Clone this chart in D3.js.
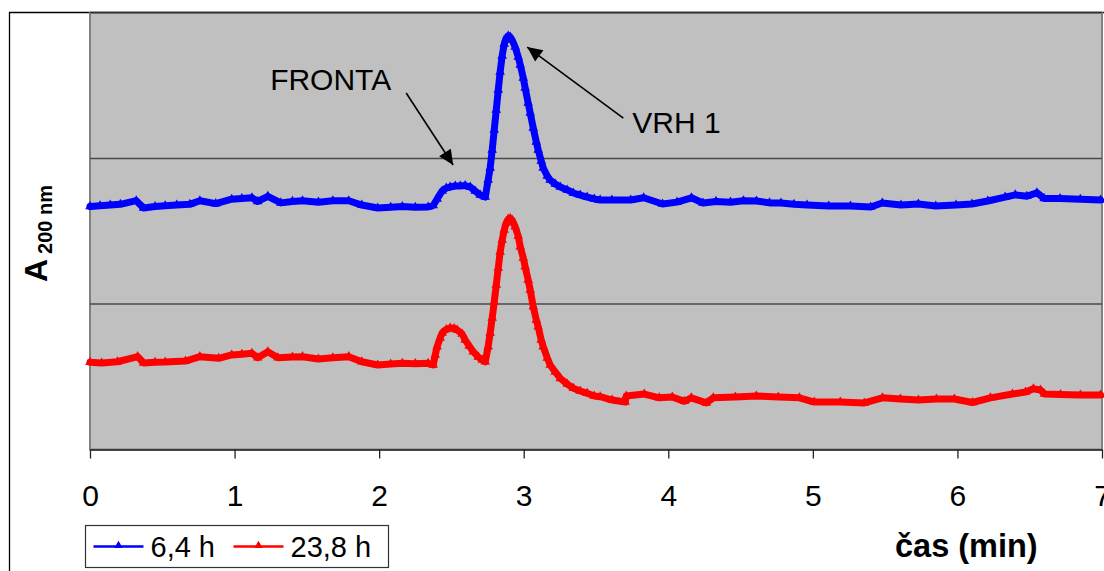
<!DOCTYPE html>
<html>
<head>
<meta charset="utf-8">
<script src="https://cdn.jsdelivr.net/npm/d3@7"></script>
<style>
    body { margin: 0; background: #fff; }
    text { font-family: "Liberation Sans", Arial, sans-serif; }
</style>
</head>
<body>
<div id="chart"></div>
<script>
// data (time in min, absorbance in arbitrary units)
var blueTime = [0.00, 0.07, 0.14, 0.21, 0.32, 0.37, 0.45, 0.52, 0.60, 0.69, 0.76, 0.87, 0.98, 1.05, 1.12, 1.16, 1.23, 1.32, 1.40, 1.47,
    1.58, 1.68, 1.79, 1.88, 1.99, 2.08, 2.16, 2.25, 2.339, 2.374, 2.401, 2.436, 2.464, 2.491, 2.526, 2.561, 2.595, 2.630, 2.664, 2.699,
    2.734, 2.754, 2.768, 2.782, 2.796, 2.810, 2.824, 2.837, 2.851, 2.865, 2.879, 2.893, 2.907, 2.920, 2.941, 2.962, 2.976, 2.997, 3.010, 3.031,
    3.045, 3.066, 3.087, 3.100, 3.121, 3.135, 3.163, 3.183, 3.218, 3.253, 3.301, 3.343, 3.391, 3.439, 3.488, 3.529, 3.61, 3.74, 3.83, 3.96,
    4.06, 4.16, 4.24, 4.33, 4.43, 4.52, 4.61, 4.70, 4.78, 4.87, 4.96, 5.11, 5.26, 5.40, 5.48, 5.61, 5.73, 5.85, 5.99, 6.10,
    6.21, 6.33, 6.40, 6.48, 6.55, 6.60, 6.71, 6.85, 6.99];
var blueAbs = [167, 167.5, 168, 168.5, 171, 166, 167, 167.5, 168, 168.5, 171, 169, 172, 172.5, 173, 170.5, 174, 169.5, 170.5, 171,
    170, 171, 171, 168, 166, 166.5, 167, 166.5, 166.7, 167.7, 172.2, 177.7, 179.7, 180.4, 181.1, 181.1, 181.4, 180.4, 177.7, 174.9,
    173.5, 185.2, 193.5, 205.8, 219.6, 233.3, 247.1, 259.5, 270.5, 278.7, 282.8, 284.2, 283.5, 281.4, 276.6, 269.8, 264.3, 255.3, 248.5, 238.1,
    231.3, 221, 211.4, 205.9, 198.3, 193.5, 188, 185.2, 182.5, 180.4, 178.4, 176.3, 174.9, 173.5, 172.2, 171.5, 171.5, 171.5, 173, 168.7,
    170, 173, 169.4, 170.5, 170, 171, 170.8, 169.5, 169.4, 168.5, 168, 167.3, 167.3, 166.7, 169.4, 168, 168.7, 167.3, 168, 168.7,
    170.8, 173.5, 175, 174, 176.5, 172.5, 172.5, 172, 171.5];

var redTime = [0.00, 0.08, 0.19, 0.33, 0.37, 0.45, 0.52, 0.66, 0.76, 0.89, 0.98, 1.05, 1.12, 1.16, 1.23, 1.30, 1.40, 1.47, 1.58, 1.68,
    1.79, 1.88, 1.99, 2.08, 2.16, 2.25, 2.339, 2.374, 2.388, 2.401, 2.422, 2.436, 2.464, 2.491, 2.519, 2.540, 2.574, 2.595, 2.623, 2.651,
    2.685, 2.713, 2.734, 2.754, 2.768, 2.782, 2.796, 2.810, 2.824, 2.837, 2.851, 2.865, 2.879, 2.893, 2.907, 2.920, 2.941, 2.962, 2.976, 2.997,
    3.010, 3.031, 3.045, 3.066, 3.087, 3.100, 3.121, 3.135, 3.163, 3.183, 3.218, 3.253, 3.301, 3.343, 3.391, 3.439, 3.488, 3.529, 3.612, 3.702,
    3.709, 3.834, 3.938, 4.028, 4.111, 4.159, 4.263, 4.311, 4.464, 4.609, 4.761, 4.907, 5.010, 5.190, 5.356, 5.481, 5.606, 5.730, 5.855, 5.979,
    6.104, 6.228, 6.381, 6.471, 6.526, 6.574, 6.602, 6.713, 6.851, 6.990];
var redAbs = [59.9, 59.5, 60.3, 63.8, 59.5, 60, 60.1, 60.8, 63.8, 62.7, 65, 65.5, 66.1, 63.1, 67.2, 63.1, 63.5, 63.8, 62.2, 63,
    63.8, 60.3, 58.1, 58.8, 59.2, 59, 59.2, 58.1, 64.9, 70.7, 76.6, 80.1, 82.5, 83.5, 83.2, 82.1, 79.4, 75.3, 71.1, 67.2,
    63.6, 61.5, 60.3, 70.7, 80.1, 90.4, 101.4, 113.1, 124.7, 135.7, 144, 150.9, 155.7, 158.4, 158.8, 157.7, 153.1, 146.7, 139.4, 131.6,
    125.6, 116.5, 109.6, 98.1, 89, 84.4, 75.3, 70.7, 62.9, 58.1, 53.3, 48.9, 45, 42.1, 40.2, 38.6, 36.8, 36.3, 34, 32.6,
    36.8, 38.1, 35.5, 36.1, 33.1, 35.5, 32, 35.5, 36.1, 36.8, 36.1, 35.5, 32.6, 32.6, 32, 35.5, 34.7, 34, 34.7, 34.7,
    32.3, 35.5, 38.1, 39.5, 41.7, 40.9, 38.1, 37.8, 37.5, 37.5];

var seriesNames = ["6,4 h", "23,8 h"];
var seriesColors = ["#0000ff", "#ff0000"];
var xTicks = [0, 1, 2, 3, 4, 5, 6, 7];
var gridValues = [100, 200];

// annotations: label position, arrow tail and arrow tip in data units
var annotations = [
    {text: "FRONTA", lx: 1.246, ly: 247, x1: 2.187, y1: 245, x2: 2.512, y2: 195.5},
    {text: "VRH 1", lx: 3.751, ly: 217.5, x1: 3.689, y1: 227.8, x2: 3.024, y2: 276.6}
];

var W = 1104, H = 571;
var margin = {top: 13, right: 2, bottom: 121.5, left: 90},
    width = W - margin.left - margin.right,
    height = H - margin.top - margin.bottom;

var svg = d3.select("#chart")
        .append("svg")
        .attr("width", W)
        .attr("height", H);

// outer chart border
svg.append("path")
        .attr("d", "M9.5," + (H + 5) + "V12.5H" + (W + 5))
        .attr("fill", "none")
        .attr("stroke", "#000")
        .attr("stroke-width", 1.3);

var g = svg.append("g")
        .attr("transform", "translate(" + margin.left + "," + margin.top + ")");

var x = d3.scaleLinear()
        .domain([0, 7])
        .range([0, width]);

var y = d3.scaleLinear()
        .domain([0, 300])
        .range([height, 0]);

// plot area
g.append("rect")
        .attr("width", width)
        .attr("height", height)
        .attr("fill", "#c0c0c0")
        .attr("stroke", "#808080")
        .attr("stroke-width", 2);

g.selectAll(".grid")
        .data(gridValues)
        .enter()
        .append("line")
        .attr("x1", 0)
        .attr("x2", width)
        .attr("y1", function (d) { return y(d); })
        .attr("y2", function (d) { return y(d); })
        .attr("stroke", "#4a4a4a")
        .attr("stroke-width", 1.3);

// top edge of the plot sits under the chart border
g.append("line")
        .attr("x1", 0).attr("x2", width)
        .attr("y1", -0.5).attr("y2", -0.5)
        .attr("stroke", "#333")
        .attr("stroke-width", 1.3);

// x axis
var xAxis = g.append("g")
        .attr("transform", "translate(0," + height + ")")
        .call(d3.axisBottom(x).tickValues(xTicks).tickFormat(d3.format("d"))
                .tickSize(9).tickSizeOuter(0).tickPadding(26));
xAxis.select(".domain").attr("stroke", "#222").attr("stroke-width", 1.5);
xAxis.selectAll(".tick line").attr("stroke", "#222").attr("stroke-width", 1.3);
xAxis.selectAll(".tick text")
        .style("font-family", "'Liberation Sans', Arial, sans-serif")
        .attr("font-size", 30)
        .attr("fill", "#000");

// series
var series = [
    d3.zip(blueTime, blueAbs),
    d3.zip(redTime, redAbs)
];

var line = d3.line()
        .x(function (d) { return x(d[0]); })
        .y(function (d) { return y(d[1]); });

var tri = d3.symbol().type(d3.symbolTriangle).size(40);

series.forEach(function (data, i) {
    g.append("path")
            .datum(data)
            .attr("d", line)
            .attr("fill", "none")
            .attr("stroke", seriesColors[i])
            .attr("stroke-width", 7)
            .attr("stroke-linejoin", "round")
            .attr("stroke-linecap", "round");

    g.selectAll(".mk" + i)
            .data(data)
            .enter()
            .append("path")
            .attr("d", tri)
            .attr("transform", function (d) {
                return "translate(" + x(d[0]) + "," + y(d[1]) + ")";
            })
            .attr("fill", seriesColors[i]);
});

// annotations with arrows
var arrowHead = function (x1, y1, x2, y2) {
    var a = Math.atan2(y2 - y1, x2 - x1), len = 15, half = 7;
    var bx = x2 - len * Math.cos(a), by = y2 - len * Math.sin(a);
    return "M" + x2 + "," + y2 +
            "L" + (bx + half * Math.sin(a)) + "," + (by - half * Math.cos(a)) +
            "L" + (bx - half * Math.sin(a)) + "," + (by + half * Math.cos(a)) + "Z";
};

annotations.forEach(function (a) {
    var px1 = x(a.x1), py1 = y(a.y1), px2 = x(a.x2), py2 = y(a.y2);
    g.append("line")
            .attr("x1", px1).attr("y1", py1)
            .attr("x2", px2).attr("y2", py2)
            .attr("stroke", "#000")
            .attr("stroke-width", 1.6);
    g.append("path")
            .attr("d", arrowHead(px1, py1, px2, py2))
            .attr("fill", "#000");
    g.append("text")
            .attr("x", x(a.lx))
            .attr("y", y(a.ly))
            .attr("font-size", 30)
            .attr("fill", "#000")
            .text(a.text);
});

// y axis title
var yTitle = svg.append("text")
        .attr("transform", "translate(47,282) rotate(-90)")
        .attr("font-weight", "bold")
        .attr("fill", "#000");
yTitle.append("tspan").attr("font-size", 32).text("A");
yTitle.append("tspan").attr("font-size", 20).attr("dx", 5).attr("dy", 5).text("200 nm");

// x axis title
svg.append("text")
        .attr("x", 895)
        .attr("y", 557)
        .attr("font-size", 32.5)
        .attr("font-weight", "bold")
        .attr("fill", "#000")
        .text("čas (min)");

// legend
var legend = svg.append("g").attr("transform", "translate(85.5,525.5)");
legend.append("rect")
        .attr("width", 303)
        .attr("height", 42)
        .attr("fill", "#fff")
        .attr("stroke", "#333")
        .attr("stroke-width", 1.2);

var legendX = [8, 148];
seriesNames.forEach(function (name, i) {
    var lg = legend.append("g").attr("transform", "translate(" + legendX[i] + ",21)");
    lg.append("line")
            .attr("x1", 0).attr("x2", 50)
            .attr("stroke", seriesColors[i])
            .attr("stroke-width", 2.5);
    lg.append("path")
            .attr("d", d3.symbol().type(d3.symbolTriangle).size(30))
            .attr("transform", "translate(25,-1)")
            .attr("fill", seriesColors[i]);
    lg.append("text")
            .attr("x", 57)
            .attr("y", 10)
            .attr("font-size", 29)
            .attr("fill", "#000")
            .text(name);
});
</script>
</body>
</html>
